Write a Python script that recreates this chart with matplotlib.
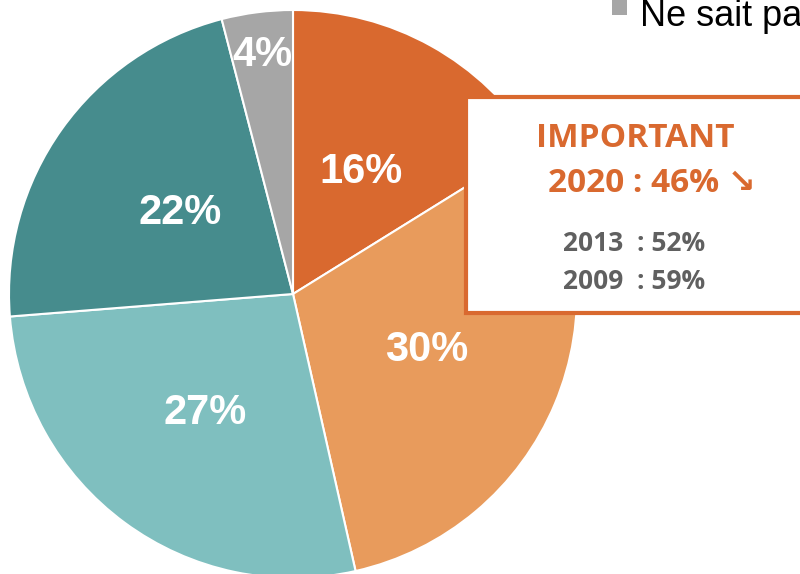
import matplotlib
matplotlib.use("Agg")
import matplotlib.pyplot as plt
from matplotlib.patches import Rectangle
import numpy as np

# pie data (clockwise from the top)
categories = ["Très important", "Assez important", "Peu important", "Pas important", "Ne sait pas"]
values = [16, 30, 27, 22, 4]
labels = ["16%", "30%", "27%", "22%", "4%"]
colors = ["#D9692F", "#E89B5C", "#7FBFBF", "#468C8D", "#A6A6A6"]

box_title = "IMPORTANT"
box_main = "2020 : 46% \u2198"
box_hist = ["2013  : 52%", "2009  : 59%"]

fig = plt.figure(figsize=(8, 5.74), dpi=100)
ax = fig.add_axes([0, 0, 1, 1])

cx, cy, r = 293, 294, 284
# y axis is inverted (pixel coords), so clockwise on screen = counterclock in data
wedges, _ = ax.pie(values, colors=colors, startangle=-90, counterclock=True,
                   center=(cx, cy), radius=r, frame=True,
                   wedgeprops=dict(edgecolor="white", linewidth=1.5))
ax.set_xlim(0, 800)
ax.set_ylim(574, 0)
ax.set_aspect("equal")
ax.axis("off")

# percentage labels inside slices
dists = [0.49, 0.51, 0.52, 0.49, 0.85]
for w, lab, d in zip(wedges, labels, dists):
    ang = np.deg2rad((w.theta1 + w.theta2) / 2)
    x = cx + d * r * np.cos(ang)
    y = cy + d * r * np.sin(ang)
    ax.text(x, y, lab, ha="center", va="center", color="white",
            fontsize=30, fontweight="bold", family="Liberation Sans")

# legend entry (only the last one is inside the crop)
ax.add_patch(Rectangle((612, 0), 15, 15, facecolor=colors[-1], edgecolor="none"))
ax.text(640, 26, categories[-1], ha="left", va="baseline", color="black",
        fontsize=26, family="Liberation Sans")

# callout box
ax.add_patch(Rectangle((466, 97), 360, 216, facecolor="white",
                       edgecolor="#D9692F", linewidth=3, zorder=5))
bfont = ["Open Sans", "DejaVu Sans"]
ax.text(635, 147, box_title, ha="center", va="baseline", color="#D9692F",
        fontsize=24, fontweight="bold", family=bfont, zorder=6)
ax.text(652, 192, box_main, ha="center", va="baseline", color="#D9692F",
        fontsize=24, fontweight="bold", family=bfont, zorder=6)
for i, t in enumerate(box_hist):
    ax.text(634, 251 + 38 * i, t, ha="center", va="baseline", color="#606060",
            fontsize=19, fontweight="bold", family=bfont, zorder=6)

fig.savefig("out.png", dpi=100)
